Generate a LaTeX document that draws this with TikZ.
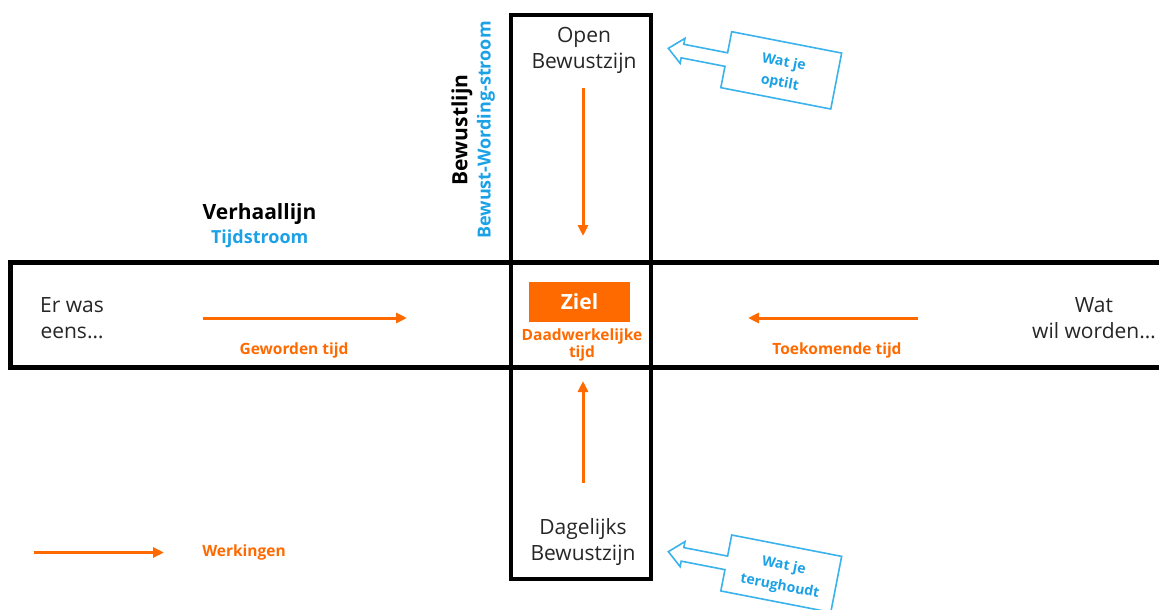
\documentclass[tikz,border=0pt]{standalone}
\usepackage{fontspec}
\setmainfont{Open Sans}
\usetikzlibrary{arrows.meta}
\definecolor{zorange}{HTML}{FF6A00}
\definecolor{zblue}{HTML}{1BA1E6}
\definecolor{zcall}{HTML}{3AB2EC}
\begin{document}
\begin{tikzpicture}[x=1pt,y=-1pt,
  band/.style={line width=4.5pt,draw=black},
  flow/.style={line width=3pt,draw=zorange,-{Triangle[length=11pt,width=10pt]}},
  maintxt/.style={font=\fontsize{21}{26}\selectfont,align=center,text=black!85,inner sep=0pt},
  otxt/.style={font=\fontsize{15.5}{17}\selectfont\bfseries,text=zorange,align=center,inner sep=0pt},
  titletxt/.style={font=\fontsize{21}{24}\selectfont\bfseries,text=black,inner sep=0pt},
  subtxt/.style={font=\fontsize{18}{21}\selectfont\bfseries,text=zblue,inner sep=0pt},
  calltxt/.style={font=\fontsize{14}{21}\selectfont\bfseries,text=zblue,align=center,inner sep=0pt},
  callout/.style={draw=zcall,line width=1.6pt,line join=miter}]
\useasboundingbox (0,0) rectangle (1159,610);

% bands
\draw[band] (1170,262.5) -- (10.5,262.5) -- (10.5,367.5) -- (1170,367.5);
\draw[band] (511,15) rectangle (651,579);

% nodes
\node[maintxt] (open) at (584,50) {Open\\Bewustzijn};
\node[maintxt] (dag) at (583,542) {Dagelijks\\Bewustzijn};
\node[maintxt] (erwas) at (72,318) {Er was\\eens…};
\node[maintxt] (watwil) at (1094,318) {Wat\\wil worden…};

\node[fill=zorange,minimum width=101pt,minimum height=40pt,inner sep=0pt,
      text=white,font=\fontsize{21}{24}\selectfont\bfseries] (ziel) at (579.5,302) {Ziel};
\node[otxt] (daad) at (582,345) {Daadwerkelijke\\tijd};

\node[otxt] (geworden) at (294,350) {Geworden tijd};
\node[otxt] (toekomend) at (837,350) {Toekomende tijd};
\node[otxt] (werk) at (244,552) {Werkingen};

\node[titletxt] (verhaal) at (259.5,214) {Verhaallijn};
\node[subtxt] (tijd) at (259.7,239) {Tijdstroom};

\node[titletxt,rotate=90] (bewustlijn) at (462,130) {Bewustlijn};
\node[subtxt,rotate=90] (bws) at (486,130) {Bewust-Wording-stroom};

% arrow end points
\coordinate (d1) at (583,88);
\coordinate (d2) at (583,236);
\coordinate (u1) at (583,483);
\coordinate (u2) at (583,381);
\coordinate (l1) at (203,318);
\coordinate (l2) at (407,318);
\coordinate (r1) at (918,318);
\coordinate (r2) at (748,318);
\coordinate (g1) at (34,552.5);
\coordinate (g2) at (164,552.5);

\draw[flow] (d1) -- (d2);
\draw[flow] (u1) -- (u2);
\draw[flow] (l1) -- (l2);
\draw[flow] (r1) -- (r2);
\draw[flow] (g1) -- (g2);

% callouts
\begin{scope}[shift={(731.7,31.7)},rotate=-11]
  \draw[callout] (0,0) -- (112,0) -- (112,57) -- (0,57) -- (0,35.3) -- (-44.6,35.3)
     -- (-44.6,40.9) -- (-59,28.4) -- (-44.6,15.4) -- (-44.6,21.5) -- (0,21.5) -- cycle;
  \node[calltxt,transform shape] (optilt) at (57,31) {Wat je\\optilt};
\end{scope}
\begin{scope}[shift={(731.7,535)},rotate=-11]
  \draw[callout] (0,0) -- (112,0) -- (112,57) -- (0,57) -- (0,35.3) -- (-44.6,35.3)
     -- (-44.6,40.9) -- (-59,28.4) -- (-44.6,15.4) -- (-44.6,21.5) -- (0,21.5) -- cycle;
  \node[calltxt,transform shape] (terug) at (57,31) {Wat je\\terughoudt};
\end{scope}
\end{tikzpicture}
\end{document}
